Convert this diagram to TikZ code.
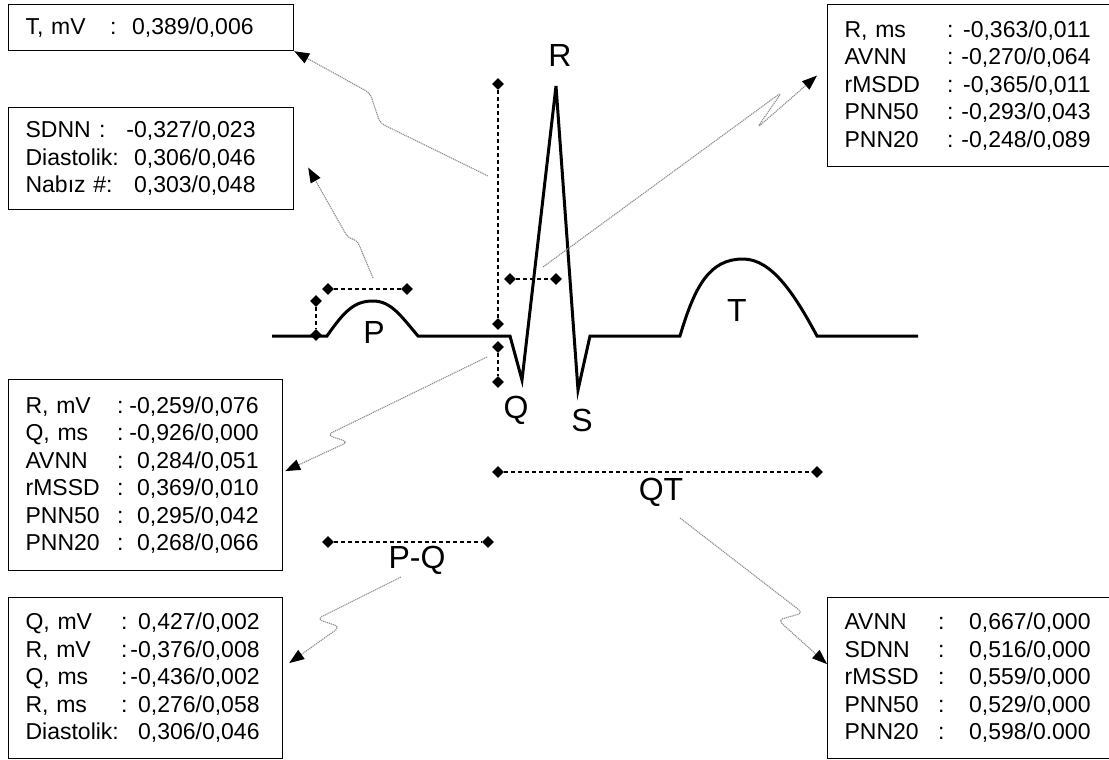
\documentclass[tikz,border=0pt]{standalone}
\usepackage{fontspec}
\setmainfont{Liberation Sans}
\usepackage{xcolor}
\usetikzlibrary{arrows.meta,positioning,shapes.geometric}
\definecolor{boltc}{HTML}{8C8C8C}
\newlength\labw
\newlength\valw
\newcommand\dline[2]{\makebox[\labw][l]{#1}\makebox[\valw][r]{#2}}
\tikzset{
  box/.style={draw,line width=1.2pt,anchor=north west,inner xsep=17pt,inner ysep=0pt,align=left,font=\fontsize{23}{27.5}\selectfont},
  labw/.code={\setlength\labw{#1}},
  valw/.code={\setlength\valw{#1}},
  lbl/.style={font=\fontsize{32}{38}\selectfont,inner sep=0pt},
  dia/.style={diamond,fill=black,minimum size=12pt,inner sep=0pt},
  meas/.style={line width=1.2pt,dash pattern=on 4pt off 3pt},
  ar/.style={boltc,line width=1.1pt,dash pattern=on 1.2pt off 0.8pt,rounded corners=5pt,-{Triangle[length=15pt,width=11pt,color=black]}},
  ecg/.style={line width=3pt}
}
\begin{document}
\begin{tikzpicture}[x=1pt,y=-1pt]
\useasboundingbox (0,0) rectangle (1109,760);
\draw[ecg] (272,336) -- (327,336) .. controls (345,310) and (355,301) .. (373,301)
  .. controls (391,301) and (401,316) .. (418,336) -- (510,336) -- (522,380) -- (556,86)
  -- (578,390) -- (590,336) -- (680,336) .. controls (695,285) and (710,259) .. (743,259)
  .. controls (772,259) and (795,295) .. (817,336) -- (918,336);
\node[lbl] (lP) at (374,332) {P};
\node[lbl] (lQ) at (516,410) {Q};
\node[lbl] (lR) at (560,55) {R};
\node[lbl] (lS) at (582,420) {S};
\node[lbl] (lT) at (737,310) {T};
\node[lbl] (lQT) at (661,492) {QT};
\node[lbl] (lPQ) at (417,560) {P-Q};
\node[dia] (pv1) at (316,301) {};
\node[dia] (pv2) at (316,335) {};
\node[dia] (ph1) at (328,289) {};
\node[dia] (ph2) at (407,289) {};
\node[dia] (rv1) at (498,84) {};
\node[dia] (rv2) at (498,324) {};
\node[dia] (qv1) at (498,347) {};
\node[dia] (qv2) at (498,382) {};
\node[dia] (rh1) at (510,279) {};
\node[dia] (rh2) at (556,279) {};
\node[dia] (qt1) at (498,472) {};
\node[dia] (qt2) at (817,472) {};
\node[dia] (pq1) at (328,542) {};
\node[dia] (pq2) at (488,542) {};
\draw[meas] (pv1) -- (pv2);
\draw[meas] (ph1) -- (ph2);
\draw[meas] (rv1) -- (rv2);
\draw[meas] (qv1) -- (qv2);
\draw[meas] (rh1) -- (rh2);
\draw[meas] (qt1) -- (qt2);
\draw[meas] (pq1) -- (pq2);
\node[box,text width=251pt,minimum height=46pt,labw=91pt,valw=137pt] (tbox) at (8,4)
  {\dline{T, mV\hfill:}{0,389/0,006}};
\node[box,text width=251pt,minimum height=102pt,labw=80pt,valw=150pt] (sdnn) at (8,107)
  {\dline{SDNN\hfill:}{-0,327/0,023}\\
   \dline{Diastolik:}{0,306/0,046}\\
   \dline{Nabız \#\hfill:}{0,303/0,048}};
\node[box,text width=240pt,minimum height=191pt,labw=98pt,valw=135pt] (rmv) at (8,379)
  {\dline{R, mV\hfill:}{-0,259/0,076}\\
   \dline{Q, ms\hfill:}{-0,926/0,000}\\
   \dline{AVNN\hfill:}{0,284/0,051}\\
   \dline{rMSSD\hfill:}{0,369/0,010}\\
   \dline{PNN50\hfill:}{0,295/0,042}\\
   \dline{PNN20\hfill:}{0,268/0,066}};
\node[box,text width=240pt,minimum height=161pt,labw=102pt,valw=132pt] (qmv) at (8,597)
  {\dline{Q, mV\hfill:}{0,427/0,002}\\
   \dline{R, mV\hfill:}{-0,376/0,008}\\
   \dline{Q, ms\hfill:}{-0,436/0,002}\\
   \dline{R, ms\hfill:}{0,276/0,058}\\
   \dline{Diastolik:}{0,306/0,046}};
\node[box,text width=254pt,minimum height=162pt,labw=109pt,valw=137pt] (rms) at (827,4)
  {\dline{R, ms\hfill:}{-0,363/0,011}\\
   \dline{AVNN\hfill:}{-0,270/0,064}\\
   \dline{rMSDD\hfill:}{-0,365/0,011}\\
   \dline{PNN50\hfill:}{-0,293/0,043}\\
   \dline{PNN20\hfill:}{-0,248/0,089}};
\node[box,text width=254pt,minimum height=161pt,labw=100pt,valw=146pt] (avnn) at (827,597)
  {\dline{AVNN\hfill:}{0,667/0,000}\\
   \dline{SDNN\hfill:}{0,516/0,000}\\
   \dline{rMSSD\hfill:}{0,559/0,000}\\
   \dline{PNN50\hfill:}{0,529/0,000}\\
   \dline{PNN20\hfill:}{0,598/0.000}};
\coordinate (tsrc) at (488,176);
\coordinate (sdsrc) at (373,278);
\coordinate (rsrc) at (543,267);
\coordinate (qsrc) at (487,357);
\coordinate (pqsrc) at (401,577);
\coordinate (qtsrc) at (680,518);
\draw[ar] (tsrc) -- (380,123) -- (370,93) -- (tbox.south east);
\draw[ar] (sdsrc) -- (357,240) -- (348,238) -- ([xshift=14pt,yshift=-9pt]sdnn.east);
\draw[ar] (rsrc) -- (782,92) -- (757,128) -- ([xshift=-10pt,yshift=10pt]rms.west);
\draw[ar] (qsrc) -- (327,435) -- (348,442) -- ([xshift=2pt,yshift=4pt]rmv.east);
\draw[ar] (pqsrc) -- (317,619) -- (340,627) -- ([xshift=6pt,yshift=15pt]qmv.east);
\draw[ar] (qtsrc) -- (803,613) -- (778,620) -- ([yshift=14pt]avnn.west);
\end{tikzpicture}
\end{document}
